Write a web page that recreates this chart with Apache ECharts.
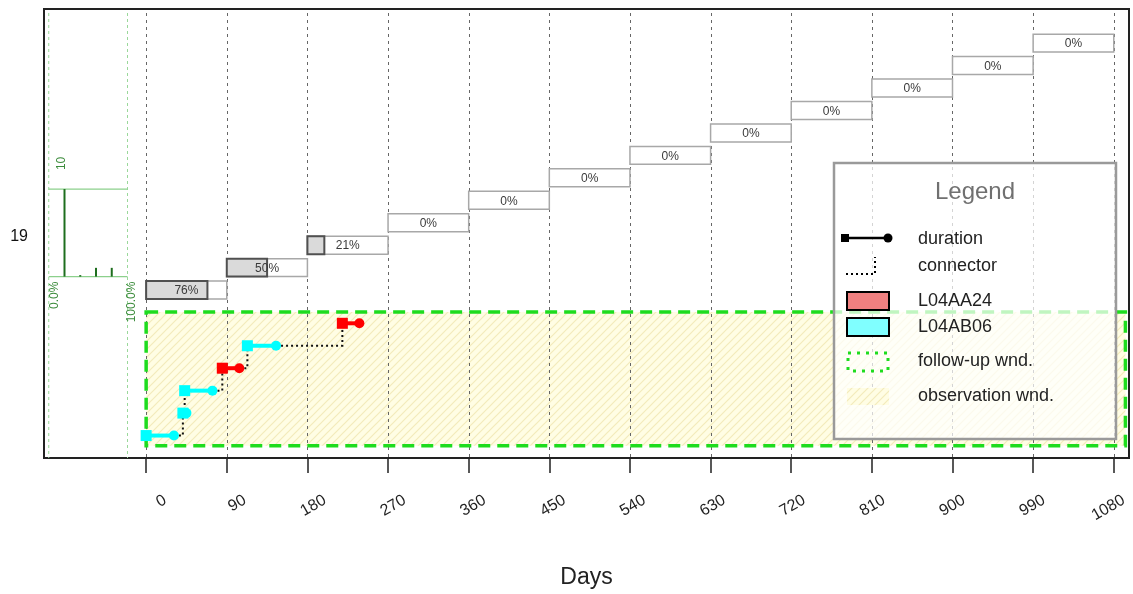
<!DOCTYPE html>
<html><head><meta charset="utf-8">
<script src="https://cdn.jsdelivr.net/npm/echarts@6/dist/echarts.min.js"></script>
<style>html,body{margin:0;padding:0;background:#fff;} #c{width:1133px;height:594px;}</style>
</head><body><div id="c"></div>
<script>
// ---------------- data ----------------
const tickValues = [0, 90, 180, 270, 360, 450, 540, 630, 720, 810, 900, 990, 1080];
const tickLabels = ['0', '90', '180', '270', '360', '450', '540', '630', '720', '810', '900', '990', '1080'];
const patientLabel = '19';
const axisTitle = 'Days';

const eventStart = [0, 41, 43, 85, 113, 219];
const eventEnd   = [31, 45, 74, 104, 145, 238];
const eventMed   = ['L04AB06', 'L04AB06', 'L04AB06', 'L04AA24', 'L04AB06', 'L04AA24'];
const medNames   = ['L04AA24', 'L04AB06'];

const windowStart = [0, 90, 180, 270, 360, 450, 540, 630, 720, 810, 900, 990];
const windowEnd   = [90, 180, 270, 360, 450, 540, 630, 720, 810, 900, 990, 1080];
const windowPct   = [76, 50, 21, 0, 0, 0, 0, 0, 0, 0, 0, 0];

const followUpWnd    = [0, 1093];
const observationWnd = [0, 1093];

const histPos   = [0.2, 0.4, 0.6, 0.8];
const histCount = [10, 0, 1, 1];
const histMax   = 10;
const histAxisLabels = ['0.0%', '100.0%'];

// ---------------- styles / layout ----------------
const FONT = '"Liberation Sans", Arial, sans-serif';
const medColor = { 'L04AA24': '#FF0000', 'L04AB06': '#00FFFF' };
const medLegendColor = { 'L04AA24': '#F08080', 'L04AB06': '#80FFFF' };
const GREEN = '#1EDC1E';
const HIST_X = [-108.7, -20.8];   // histogram panel extent (days)
const HIST_Y = [8.08, 11.98];     // histogram panel extent (rows)
const PATIENT_ROW = 9.84;

function makeHatch() {
  const c = document.createElement('canvas');
  c.width = 8; c.height = 8;
  const g = c.getContext('2d');
  g.fillStyle = '#FFFDE4'; g.fillRect(0, 0, 8, 8);
  g.strokeStyle = '#F3EBBB'; g.lineWidth = 1.2;
  g.beginPath();
  g.moveTo(0, 8); g.lineTo(8, 0);
  g.moveTo(-2, 2); g.lineTo(2, -2);
  g.moveTo(6, 10); g.lineTo(10, 6);
  g.stroke();
  return c;
}
const hatch = makeHatch();

const chart = echarts.init(document.getElementById('c'), null, { renderer: 'canvas' });

const nEv = eventStart.length;
const obsLow = 0.55, obsHigh = nEv + 0.5;

const option = {
  animation: false,
  backgroundColor: '#fff',
  grid: { left: 44, right: 4, top: 9, bottom: 136, outerBoundsMode: 'none', containLabel: false,
    show: true, borderColor: '#222', borderWidth: 2, backgroundColor: 'transparent' },
  xAxis: {
    type: 'value', min: -114, max: 1097,
    name: axisTitle, nameLocation: 'middle', nameGap: 108,
    nameTextStyle: { fontSize: 23, color: '#222', fontFamily: FONT },
    axisLine: { show: true, onZero: false, lineStyle: { color: '#222', width: 2 } },
    axisTick: { show: true, customValues: tickValues, length: 15, lineStyle: { color: '#222', width: 1.5 } },
    axisLabel: { show: false },
    splitLine: { show: false }
  },
  yAxis: {
    type: 'value', min: 0, max: 20,
    axisLine: { show: true, onZero: false, lineStyle: { color: '#222', width: 2 } },
    axisTick: { show: false },
    splitLine: { show: false },
    axisLabel: {
      show: true, customValues: [PATIENT_ROW], formatter: () => patientLabel,
      fontSize: 16, color: '#111', fontFamily: FONT, margin: 16
    }
  },
  graphic: buildLegend(),
  series: [
    // observation window
    {
      type: 'custom', silent: true, data: [[observationWnd[0], observationWnd[1]]],
      renderItem(params, api) {
        const p1 = api.coord([api.value(0), obsHigh]);
        const p2 = api.coord([api.value(1), obsLow]);
        return { type: 'rect', shape: { x: p1[0], y: p1[1], width: p2[0] - p1[0], height: p2[1] - p1[1] },
          style: { fill: { image: hatch, repeat: 'repeat' } } };
      }
    },
    // vertical dotted grid lines
    {
      type: 'custom', silent: true, data: tickValues.map(v => [v]),
      renderItem(params, api) {
        const x = Math.round(api.coord([api.value(0), 0])[0]) + 0.5;
        const cs = params.coordSys;
        return { type: 'line', shape: { x1: x, y1: cs.y + 4, x2: x, y2: cs.y + cs.height },
          style: { stroke: '#666', lineWidth: 1, lineDash: [3, 4] } };
      }
    },
    // follow-up window
    {
      type: 'custom', silent: true, data: [[followUpWnd[0], followUpWnd[1]]],
      renderItem(params, api) {
        const p1 = api.coord([api.value(0), obsHigh]);
        const p2 = api.coord([api.value(1), obsLow]);
        return { type: 'rect', shape: { x: p1[0], y: p1[1], width: p2[0] - p1[0], height: p2[1] - p1[1] },
          style: { fill: 'none', stroke: GREEN, lineWidth: 3.5, lineDash: [12, 7] } };
      }
    },
    // connectors
    {
      type: 'custom', silent: true,
      data: eventStart.slice(1).map((s, i) => [eventEnd[i], i + 1, s, i + 2]),
      renderItem(params, api) {
        const a = api.coord([api.value(0), api.value(1)]);
        const b = api.coord([api.value(2), api.value(1)]);
        const c = api.coord([api.value(2), api.value(3)]);
        return { type: 'polyline', shape: { points: [a, b, c] },
          style: { fill: 'none', stroke: '#111', lineWidth: 2, lineDash: [2, 3] } };
      }
    },
    // events
    {
      type: 'custom', silent: true,
      data: eventStart.map((s, i) => [s, eventEnd[i], i + 1, medNames.indexOf(eventMed[i])]),
      renderItem(params, api) {
        const a = api.coord([api.value(0), api.value(2)]);
        const b = api.coord([api.value(1), api.value(2)]);
        const col = medColor[medNames[api.value(3)]];
        return { type: 'group', children: [
          { type: 'line', shape: { x1: a[0], y1: a[1], x2: b[0], y2: b[1] }, style: { stroke: col, lineWidth: 4 } },
          { type: 'rect', shape: { x: a[0] - 5.5, y: a[1] - 5.5, width: 11, height: 11 }, style: { fill: col } },
          { type: 'circle', shape: { cx: b[0], cy: b[1], r: 5 }, style: { fill: col } }
        ] };
      }
    },
    // sliding windows
    {
      type: 'custom', silent: true,
      data: windowStart.map((s, i) => [s, windowEnd[i], i + 1, windowPct[i]]),
      renderItem(params, api) {
        const s = api.value(0), e = api.value(1), k = api.value(2), pct = api.value(3);
        const y0 = nEv + k + 0.08, y1 = nEv + k + 0.88;
        const p1 = api.coord([s, y1]), p2 = api.coord([e, y0]);
        const children = [
          { type: 'rect', shape: { x: p1[0], y: p1[1], width: p2[0] - p1[0], height: p2[1] - p1[1] },
            style: { fill: '#fff', stroke: '#A8A8A8', lineWidth: 1.5 } }
        ];
        if (pct > 0) {
          const pf = api.coord([s + (e - s) * pct / 100, y0]);
          children.push({ type: 'rect', shape: { x: p1[0], y: p1[1], width: pf[0] - p1[0], height: p2[1] - p1[1] },
            style: { fill: '#DADADA', stroke: '#505050', lineWidth: 2 } });
        }
        children.push({ type: 'text', x: (p1[0] + p2[0]) / 2, y: (p1[1] + p2[1]) / 2 + 1,
          style: { text: pct + '%', fontSize: 12, fontFamily: FONT, fill: '#3a3a3a', align: 'center', verticalAlign: 'middle' } });
        return { type: 'group', children };
      }
    },
    // histogram panel
    {
      type: 'custom', silent: true, data: [[0]],
      renderItem(params, api) {
        const cs = params.coordSys;
        const L = api.coord([HIST_X[0], HIST_Y[0]]);
        const R = api.coord([HIST_X[1], HIST_Y[1]]);
        const base = L[1], top = R[1];
        const ch = [];
        [L[0], R[0]].forEach(x => ch.push({ type: 'line', shape: { x1: x, y1: cs.y + 4, x2: x, y2: cs.y + cs.height },
          style: { stroke: '#9AD89A', lineWidth: 1, lineDash: [3, 3] } }));
        ch.push({ type: 'line', shape: { x1: L[0], y1: top, x2: R[0], y2: top }, style: { stroke: '#8CD08C', lineWidth: 1.3 } });
        ch.push({ type: 'line', shape: { x1: L[0], y1: base, x2: R[0], y2: base }, style: { stroke: '#8CD08C', lineWidth: 1.3 } });
        histPos.forEach((p, i) => {
          const xd = HIST_X[0] + p * (HIST_X[1] - HIST_X[0]);
          const yd = HIST_Y[0] + histCount[i] / histMax * (HIST_Y[1] - HIST_Y[0]);
          const a = api.coord([xd, HIST_Y[0]]), b = api.coord([xd, yd]);
          const yTop = Math.min(b[1], a[1] - 1.5);
          ch.push({ type: 'line', shape: { x1: a[0], y1: a[1], x2: a[0], y2: yTop }, style: { stroke: '#1E6E1E', lineWidth: 2 } });
        });
        const mx = api.coord([HIST_X[0] + histPos[0] * (HIST_X[1] - HIST_X[0]), HIST_Y[1]]);
        ch.push({ type: 'text', x: mx[0] - 3, y: top - 19, rotation: Math.PI / 2,
          style: { text: String(histMax), fontSize: 12, fontFamily: FONT, fill: '#3C8C3C', align: 'left', verticalAlign: 'middle' } });
        ch.push({ type: 'text', x: L[0] + 6, y: base + 5, rotation: Math.PI / 2,
          style: { text: histAxisLabels[0], fontSize: 12, fontFamily: FONT, fill: '#3C8C3C', align: 'right', verticalAlign: 'middle' } });
        ch.push({ type: 'text', x: R[0] + 4, y: base + 5, rotation: Math.PI / 2,
          style: { text: histAxisLabels[1], fontSize: 12, fontFamily: FONT, fill: '#3C8C3C', align: 'right', verticalAlign: 'middle' } });
        return { type: 'group', children: ch };
      }
    },
    // x tick labels (rotated)
    {
      type: 'custom', silent: true, clip: false, data: tickValues.map((v, i) => [v, i]),
      renderItem(params, api) {
        const v = api.value(0);
        const p = api.coord([v, 0]);
        const off = 19 - 9 * (v / 1080);
        return { type: 'text', x: p[0] + off, y: p[1] + 41, rotation: Math.PI / 6,
          style: { text: tickLabels[api.value(1)], fontSize: 16, fontFamily: FONT, fill: '#222', align: 'right', verticalAlign: 'middle' } };
      }
    }
  ]
};

function buildLegend() {
  const t = (text, y) => ({ type: 'text', left: 918, top: y - 10, z: 101,
    style: { text, fontSize: 18, fontFamily: FONT, fill: '#222' } });
  return [
    { type: 'rect', z: 100, shape: { x: 834, y: 163, width: 282, height: 276 },
      style: { fill: 'rgba(255,255,255,0.72)', stroke: '#9A9A9A', lineWidth: 2.5 } },
    { type: 'text', z: 101, x: 975, y: 192, style: { text: 'Legend', fontSize: 24, fontFamily: FONT, fill: '#707070', align: 'center', verticalAlign: 'middle' } },
    { type: 'line', z: 101, shape: { x1: 845, y1: 238, x2: 888, y2: 238 }, style: { stroke: '#000', lineWidth: 2.5 } },
    { type: 'rect', z: 101, shape: { x: 841, y: 234, width: 8, height: 8 }, style: { fill: '#000' } },
    { type: 'circle', z: 101, shape: { cx: 888, cy: 238, r: 4.5 }, style: { fill: '#000' } },
    { type: 'polyline', z: 101, shape: { points: [[846, 274], [875, 274], [875, 257]] }, style: { fill: 'none', stroke: '#000', lineWidth: 2, lineDash: [2, 3] } },
    { type: 'rect', z: 101, shape: { x: 847, y: 292, width: 42, height: 18 }, style: { fill: medLegendColor[medNames[0]], stroke: '#000', lineWidth: 2 } },
    { type: 'rect', z: 101, shape: { x: 847, y: 318, width: 42, height: 18 }, style: { fill: medLegendColor[medNames[1]], stroke: '#000', lineWidth: 2 } },
    { type: 'rect', z: 101, shape: { x: 848, y: 353, width: 40, height: 18 }, style: { fill: 'none', stroke: GREEN, lineWidth: 3, lineDash: [3, 6] } },
    { type: 'rect', z: 101, shape: { x: 847, y: 388, width: 42, height: 17 }, style: { fill: { image: hatch, repeat: 'repeat' } } },
    t('duration', 240), t('connector', 267), t(medNames[0], 302), t(medNames[1], 328),
    t('follow-up wnd.', 362), t('observation wnd.', 397)
  ];
}

chart.setOption(option);
</script>
</body></html>
